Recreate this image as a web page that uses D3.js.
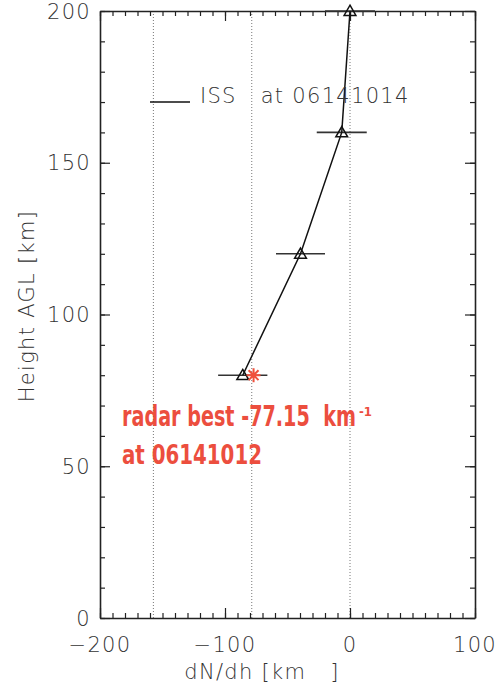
<!DOCTYPE html>
<html><head><meta charset="utf-8">
<script src="https://cdn.jsdelivr.net/npm/d3@7"></script>
<style>body{margin:0;background:#fff}svg{display:block}</style>
</head><body>
<svg id="c" width="497" height="685"></svg>
<script>
// ---- data ----
const heights = [80, 120, 160, 200];
const dNdh = [-85.8, -39.6, -6.6, 0];
const errHalf = [19.7, 19.6, 20, 20];
const refLines = [-157.3, -78.6, 0];
const radarValue = -77.15;
const radarHeight = 80;
const xMajor = [-200, -100, 0, 100];
const xMinor = d3.range(-200, 101, 10);
const yMajor = [0, 50, 100, 150, 200];
const yMinor = d3.range(0, 201, 10);
const xLabels = ["\u2212200", "\u2212100", "0", "100"];
const yLabels = ["0", "50", "100", "150", "200"];
const legendLabel = "ISS   at 06141014";
const radarLine1 = "radar best -77.15  km";
const radarSup = "-1";
const radarLine2 = "at 06141012";

// ---- layout ----
const L = 100, R = 475, T = 11, B = 618;
const svg = d3.select("#c");
const x = d3.scaleLinear().domain([-200, 100]).range([L, R]);
const y = d3.scaleLinear().domain([0, 200]).range([B, T]);
const font = "'DejaVu Sans', sans-serif";
const tcol = "#333";
const ls = 1.3;

// reference dotted lines
svg.append("g").selectAll("line").data(refLines).join("line")
  .attr("x1", d => x(d)).attr("x2", d => x(d))
  .attr("y1", T).attr("y2", B)
  .attr("stroke", "#777").attr("stroke-width", 1).attr("stroke-dasharray", "1,2");

// axes
function styleAxis(g) {
  g.selectAll("path").attr("stroke", "#222").attr("stroke-width", 1.6);
  g.selectAll("line").attr("stroke", "#222").attr("stroke-width", 1.2);
  g.selectAll("text").remove();
}
const axes = [
  [d3.axisBottom(x), `translate(0,${B})`, xMajor, xMinor],
  [d3.axisTop(x), `translate(0,${T})`, xMajor, xMinor],
  [d3.axisLeft(y), `translate(${L},0)`, yMajor, yMinor],
  [d3.axisRight(y), `translate(${R},0)`, yMajor, yMinor]
];
axes.forEach(([ax, tr, maj, min]) => {
  svg.append("g").attr("transform", tr)
    .call(ax.tickValues(min).tickSize(-5).tickSizeOuter(0)).call(styleAxis);
  svg.append("g").attr("transform", tr)
    .call(ax.tickValues(maj).tickSize(-10).tickSizeOuter(0)).call(styleAxis)
    .select("path").remove();
});

// tick labels
svg.append("g").selectAll("text").data(xMajor).join("text")
  .attr("x", d => x(d)).attr("y", 652).attr("text-anchor", "middle")
  .attr("font-family", font).attr("font-weight", 200).attr("font-size", 21)
  .attr("letter-spacing", ls)
  .attr("fill", tcol).text((d, i) => xLabels[i]);
svg.append("g").selectAll("text").data(yMajor).join("text")
  .attr("x", 91).attr("y", d => y(d) + 7.5).attr("text-anchor", "end")
  .attr("font-family", font).attr("font-weight", 200).attr("font-size", 21)
  .attr("letter-spacing", ls)
  .attr("fill", tcol).text((d, i) => yLabels[i]);

// axis titles
svg.append("text").attr("x", 262).attr("y", 679).attr("text-anchor", "middle")
  .attr("font-family", font).attr("font-weight", 200).attr("font-size", 21)
  .attr("letter-spacing", ls).style("white-space", "pre")
  .attr("fill", tcol).text("dN/dh [km   ]");
svg.append("text").attr("transform", `translate(34,306) rotate(-90)`)
  .attr("text-anchor", "middle")
  .attr("font-family", font).attr("font-weight", 200).attr("font-size", 21)
  .attr("letter-spacing", ls)
  .attr("fill", tcol).text("Height AGL [km]");

// error bars
svg.append("g").selectAll("line").data(heights).join("line")
  .attr("x1", (d, i) => x(dNdh[i] - errHalf[i])).attr("x2", (d, i) => x(dNdh[i] + errHalf[i]))
  .attr("y1", d => y(d)).attr("y2", d => y(d))
  .attr("stroke", "#333").attr("stroke-width", 1.6);

// profile line
const line = d3.line().x((d, i) => x(dNdh[i])).y(d => y(d));
svg.append("path").datum(heights).attr("d", line)
  .attr("fill", "none").attr("stroke", "#111").attr("stroke-width", 1.5);

// triangles
svg.append("g").selectAll("path").data(heights).join("path")
  .attr("transform", (d, i) => `translate(${x(dNdh[i])},${y(d) + 1})`)
  .attr("d", d3.symbol(d3.symbolTriangle, 60))
  .attr("fill", "none").attr("stroke", "#111").attr("stroke-width", 1.5);

// radar asterisk
const ax0 = x(radarValue), ay0 = y(radarHeight), r = 7;
const ast = d3.path();
[0, 45, 90, 135].forEach(a => {
  const t = a * Math.PI / 180;
  ast.moveTo(ax0 - r * Math.cos(t), ay0 - r * Math.sin(t));
  ast.lineTo(ax0 + r * Math.cos(t), ay0 + r * Math.sin(t));
});
svg.append("path").attr("d", ast.toString()).attr("stroke", "#f0503c").attr("stroke-width", 2);

// legend
svg.append("line").attr("x1", 150).attr("x2", 190).attr("y1", 102).attr("y2", 102)
  .attr("stroke", "#111").attr("stroke-width", 1.3);
svg.append("text").attr("x", 200).attr("y", 103)
  .style("white-space", "pre")
  .attr("font-family", font).attr("font-weight", 200).attr("font-size", 21)
  .attr("letter-spacing", ls)
  .attr("fill", tcol).text(legendLabel);

// radar annotation (horizontally squeezed to fit the reference widths)
const rf = "'Liberation Sans Narrow', 'DejaVu Sans Condensed', sans-serif";
const red = "#ec4e3e";
function squeezed(txt, x0, y0, size, width) {
  const t = svg.append("text").attr("x", 0).attr("y", 0).style("white-space", "pre")
    .attr("font-family", rf).attr("font-weight", "bold").attr("font-size", size)
    .attr("fill", red).text(txt);
  const w = t.node().getComputedTextLength();
  t.attr("transform", `translate(${x0},${y0}) scale(${width / w},1)`);
}
squeezed(radarLine1, 122, 426, 28, 234);
squeezed(radarLine2, 122, 464, 27, 140);
svg.append("text").attr("x", 359).attr("y", 416)
  .attr("font-family", rf).attr("font-weight", "bold").attr("font-size", 13)
  .attr("fill", red).text(radarSup);
</script>
</body></html>
